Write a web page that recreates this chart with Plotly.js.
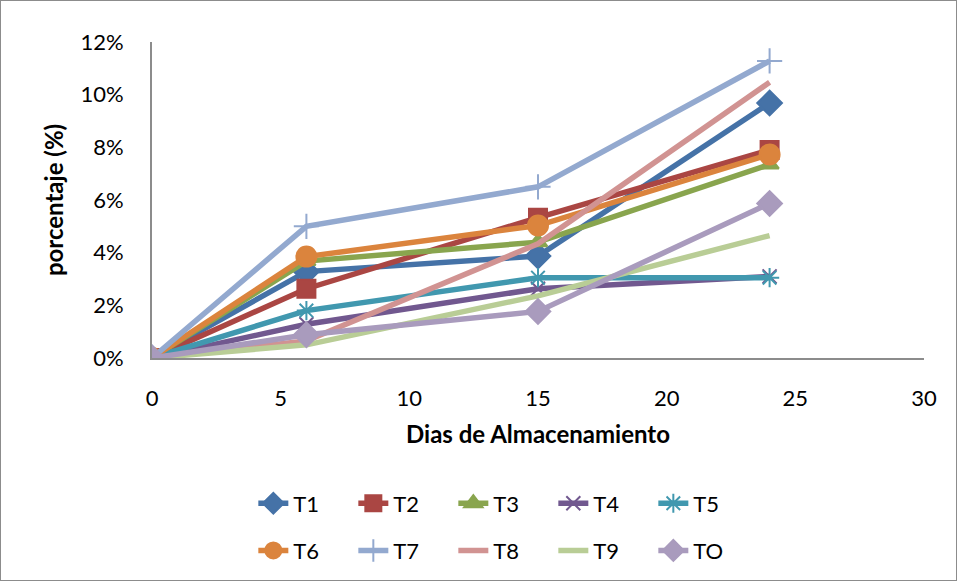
<!DOCTYPE html>
<html><head><meta charset="utf-8">
<script src="https://cdn.plot.ly/plotly-3.0.1.min.js"></script>
<style>html,body{margin:0;padding:0;background:#fff}#c{width:955px;height:579px;border:1px solid #8c8c8c}</style>
</head><body><div id="c"></div>
<script>
const dias = [0, 6, 15, 24];
const names = ['T1','T2','T3','T4','T5','T6','T7','T8','T9','TO'];
const T1 = [0, 3.28, 3.87, 9.68];
const T2 = [0, 2.63, 5.33, 7.9];
const T3 = [0, 3.68, 4.4, 7.35];
const T4 = [0, 1.28, 2.63, 3.1];
const T5 = [0, 1.8, 3.05, 3.05];
const T6 = [0, 3.85, 5.03, 7.73];
const T7 = [0, 5.0, 6.5, 11.28];
const T8 = [0, 0.65, 4.34, 10.47];
const T9 = [0, 0.5, 2.36, 4.65];
const TO = [0, 0.88, 1.77, 5.87];
const series = [T1,T2,T3,T4,T5,T6,T7,T8,T9,TO];
const yTicks = [0,2,4,6,8,10,12];
const xTicks = [0,5,10,15,20,25,30];

const colors = ['#4572A7','#AA4643','#89A54E','#71588F','#4198AF','#DB843D','#93A9CF','#D19392','#B9CD96','#A99BBD'];
const symbols = ['diamond','square','triangle-up','x-thin-open','asterisk-open','circle','cross-thin-open', null, null,'diamond'];
const sizes = [19,18,16,14,16,20,18,0,0,19];

const traces = series.map((s,i)=>{
  const t = {
    x: dias, y: s, name: names[i], type:'scatter',
    mode: symbols[i] ? 'lines+markers' : 'lines',
    line:{color:colors[i], width:5.5},
    legend: i < 5 ? 'legend' : 'legend2'
  };
  if (symbols[i]) t.marker = {symbol:symbols[i], size:sizes[i], color:colors[i], line:{color:colors[i], width:2}};
  return t;
});

const font = 'Lato, "Open Sans", "Liberation Sans", sans-serif';
const legendCommon = {orientation:'h', xanchor:'center', xref:'container', x:0.526, yanchor:'top', yref:'container', font:{size:22, color:'#000', family:font}, itemwidth:30, entrywidth:55, entrywidthmode:'pixels', tracegroupgap:0, bgcolor:'rgba(0,0,0,0)'};
const layout = {
  width:955, height:579,
  margin:{l:151, r:32, t:41, b:222},
  paper_bgcolor:'#fff', plot_bgcolor:'#fff',
  font:{family:font, color:'#000', size:18},
  showlegend:true,
  xaxis:{range:[0,30], tickvals:xTicks, ticktext:xTicks.map(String), showgrid:false, zeroline:false,
    showline:true, linecolor:'#8c8c8c', linewidth:2, ticks:'outside', tickcolor:'rgba(0,0,0,0)', ticklen:20,
    tickfont:{size:22}, title:{text:'<b>Dias de Almacenamiento</b>', font:{size:24}, standoff:16}},
  yaxis:{range:[0,12], tickvals:yTicks, ticktext:yTicks.map(v=>v+'%'), showgrid:false, zeroline:false,
    showline:true, linecolor:'#8c8c8c', linewidth:2, ticks:'outside', tickcolor:'rgba(0,0,0,0)', ticklen:22,
    tickfont:{size:22}, title:{text:'<b>porcentaje (%)</b>', font:{size:24}, standoff:10}},
  legend: Object.assign({}, legendCommon, {y:0.1685}),
  legend2: Object.assign({}, legendCommon, {y:0.087})
};
Plotly.newPlot('c', traces, layout, {displayModeBar:false});
</script></body></html>
